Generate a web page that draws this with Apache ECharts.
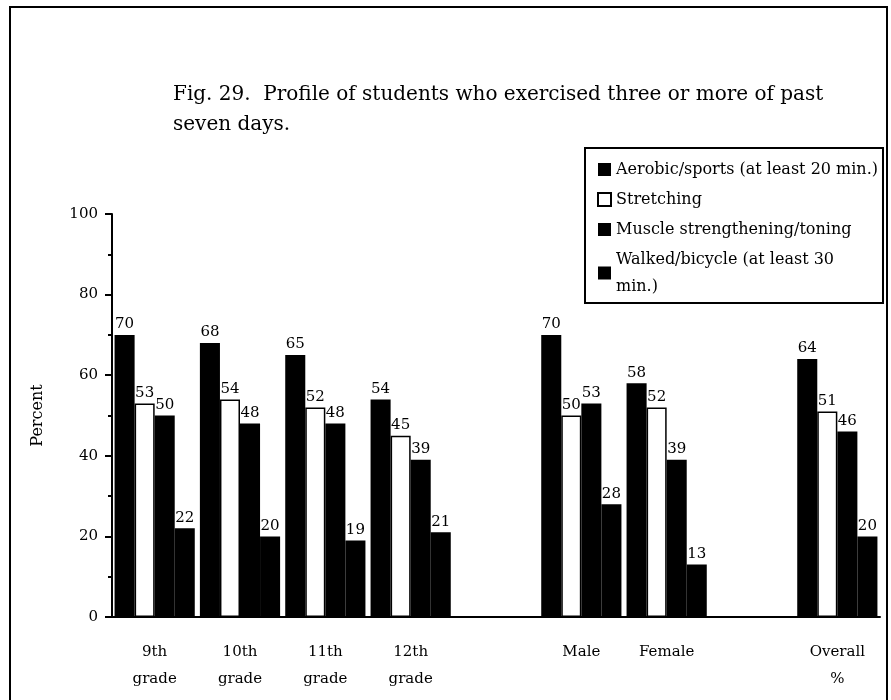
<!DOCTYPE html>
<html>
<head>
<meta charset="utf-8">
<script src="https://cdn.jsdelivr.net/npm/echarts@6/dist/echarts.min.js"></script>
<style>html,body{margin:0;padding:0;background:#fff;}#c{width:891px;height:700px;}</style>
</head>
<body>
<div id="c"></div>
<script>
var categories = ['9th\ngrade', '10th\ngrade', '11th\ngrade', '12th\ngrade', '', 'Male', 'Female', '', 'Overall\n%'];
var seriesNames = ['Aerobic/sports (at least 20 min.)', 'Stretching', 'Muscle strengthening/toning', 'Walked/bicycle (at least 30 min.)'];
var aerobic = [70, 68, 65, 54, '-', 70, 58, '-', 64];
var stretching = [53, 54, 52, 45, '-', 50, 52, '-', 51];
var muscle = [50, 48, 48, 39, '-', 53, 39, '-', 46];
var walked = [22, 20, 19, 21, '-', 28, 13, '-', 20];
var yTicks = [0, 20, 40, 60, 80, 100];
var titleText = 'Fig. 29.  Profile of students who exercised three or more of past\nseven days.';
var yName = 'Percent';

var FONT = 'DejaVu Serif';
var chart = echarts.init(document.getElementById('c'), null, {renderer: 'canvas'});
function bar(name, data, fill) {
  return {
    name: name, type: 'bar', data: data,
    barGap: '0%', barCategoryGap: '6%',
    itemStyle: fill === 'white' ? {color: '#fff', borderColor: '#000', borderWidth: 1.5} : {color: '#000'},
    label: {show: true, position: 'top', distance: 3, color: '#000', fontFamily: FONT, fontSize: 15},
    emphasis: {disabled: true}, animation: false
  };
}
chart.setOption({
  animation: false,
  backgroundColor: '#fff',
  graphic: [{type: 'rect', shape: {x: 10, y: 7, width: 877, height: 720}, style: {fill: 'none', stroke: '#000', lineWidth: 2}, silent: true}],
  title: {text: titleText, left: 168, top: 75, textStyle: {fontFamily: FONT, fontSize: 20, fontWeight: 'normal', color: '#000', lineHeight: 30}},
  legend: {
    orient: 'vertical', left: 585, top: 148, padding: [8, 5, 3, 12],
    borderColor: '#000', borderWidth: 2, backgroundColor: '#fff',
    itemWidth: 13, itemHeight: 13, itemGap: 3, itemTextGap: 5,
    textStyle: {fontFamily: FONT, fontSize: 16, color: '#000', lineHeight: 27},
    formatter: function (n) { return n === seriesNames[3] ? 'Walked/bicycle (at least 30\nmin.)' : n; },
    data: seriesNames.map(function (n, i) {
      return i === 1 ? {name: n, icon: 'rect', itemStyle: {color: '#fff', borderColor: '#000', borderWidth: 2}} : {name: n, icon: 'rect'};
    })
  },
  grid: {left: 112, right: 11, top: 214, bottom: 83, containLabel: false},
  xAxis: {
    type: 'category', data: categories,
    axisLine: {lineStyle: {color: '#000', width: 2}},
    axisTick: {show: false},
    axisLabel: {interval: 0, margin: 22, color: '#000', fontFamily: FONT, fontSize: 15, lineHeight: 27}
  },
  yAxis: {
    type: 'value', min: yTicks[0], max: yTicks[yTicks.length - 1], interval: 20,
    name: yName, nameLocation: 'middle', nameGap: 66, nameRotate: 90,
    nameTextStyle: {fontFamily: FONT, fontSize: 16, color: '#000'},
    axisLine: {show: true, lineStyle: {color: '#000', width: 2}},
    axisTick: {show: true, inside: false, length: 7, lineStyle: {color: '#000', width: 2}},
    minorTick: {show: true, splitNumber: 2, length: 4, lineStyle: {color: '#000', width: 2}},
    splitLine: {show: false},
    axisLabel: {margin: 14, color: '#000', fontFamily: FONT, fontSize: 15}
  },
  series: [
    bar(seriesNames[0], aerobic, 'black'),
    bar(seriesNames[1], stretching, 'white'),
    bar(seriesNames[2], muscle, 'black'),
    bar(seriesNames[3], walked, 'black')
  ]
});
</script>
</body>
</html>
